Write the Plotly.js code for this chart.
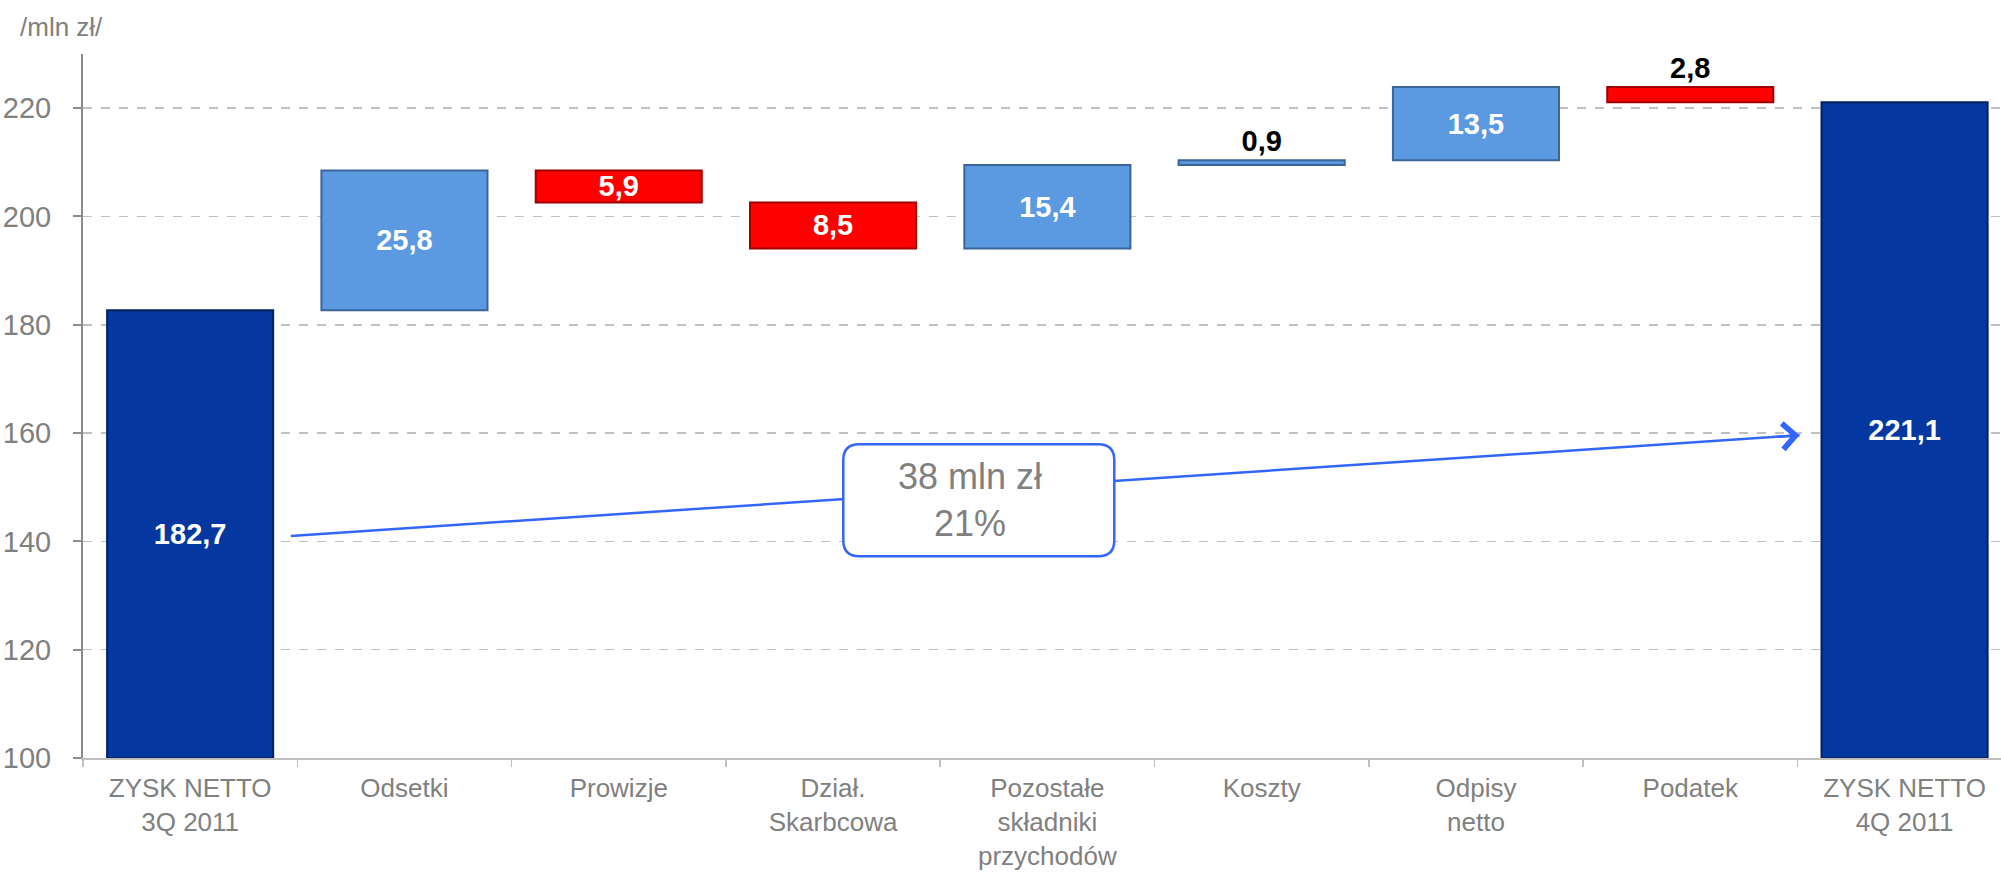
<!DOCTYPE html>
<html>
<head>
<meta charset="utf-8">
<script src="https://cdn.plot.ly/plotly-3.0.1.min.js"></script>
<style>
  html, body { margin: 0; padding: 0; background: #ffffff; overflow: hidden; }
  #chart { width: 2001px; height: 873px; }
</style>
</head>
<body>
<div id="chart"></div>
<script>
// ---- data ----
const categories = [
  'ZYSK NETTO<br>3Q 2011', 'Odsetki', 'Prowizje', 'Dział.<br>Skarbcowa',
  'Pozostałe<br>składniki<br>przychodów', 'Koszty', 'Odpisy<br>netto', 'Podatek',
  'ZYSK NETTO<br>4Q 2011'
];
const startValue = 182.7;
const changes = [25.8, -5.9, -8.5, 15.4, 0.9, 13.5, -2.8];
const endValue = 221.1;
const valueLabels = ['182,7', '25,8', '5,9', '8,5', '15,4', '0,9', '13,5', '2,8', '221,1'];
const unitLabel = '/mln zł/';
const growthLabel = ['38 mln zł', '21%'];
const yTicks = [100, 120, 140, 160, 180, 200, 220];

// ---- styles ----
const Y_MIN = 100, Y_MAX = 230;
const FONT = 'Liberation Sans, Arial, Helvetica, sans-serif';
const GRAY = '#808080';
const C_TOTAL = '#0537A1', C_TOTAL_LINE = '#02205E';
const C_UP = '#5B9AE0', C_UP_LINE = '#3A6596';
const C_DOWN = '#FF0000', C_DOWN_LINE = '#A00000';
const ARROW = '#3366FF';

// build waterfall geometry from the data
const bases = [], heights = [], fills = [], lines = [], tpos = [];
bases.push(Y_MIN); heights.push(startValue - Y_MIN); fills.push(C_TOTAL); lines.push(C_TOTAL_LINE);
let running = startValue;
changes.forEach(d => {
  const next = running + d;
  bases.push(Math.min(running, next));
  heights.push(Math.abs(d));
  fills.push(d >= 0 ? C_UP : C_DOWN);
  lines.push(d >= 0 ? C_UP_LINE : C_DOWN_LINE);
  running = next;
});
bases.push(Y_MIN); heights.push(endValue - Y_MIN); fills.push(C_TOTAL); lines.push(C_TOTAL_LINE);
heights.forEach(h => tpos.push(h >= 5 ? 'inside' : 'outside'));

const trace = {
  type: 'bar',
  x: categories,
  y: heights,
  base: bases,
  width: 0.775,
  marker: { color: fills, line: { color: lines, width: 2 } },
  text: valueLabels,
  textposition: tpos,
  insidetextanchor: 'middle',
  constraintext: 'none',
  insidetextfont: { family: FONT, size: 29, color: '#ffffff', weight: 'bold' },
  outsidetextfont: { family: FONT, size: 29, color: '#000000', weight: 'bold' },
  cliponaxis: false,
  hoverinfo: 'skip'
};

// arrow geometry (in category index / value units)
const arrowTail = { x: 0.47, y: 141 };
const arrowHead = { x: 7.51, y: 159.6 };
const boxCenter = { x: 3.68, y: 147.6 };
const bw = 135.5, bh = 56, r = 16;
const boxPath =
  `M ${-bw + r},${-bh} L ${bw - r},${-bh} Q ${bw},${-bh} ${bw},${-bh + r} ` +
  `L ${bw},${bh - r} Q ${bw},${bh} ${bw - r},${bh} ` +
  `L ${-bw + r},${bh} Q ${-bw},${bh} ${-bw},${bh - r} ` +
  `L ${-bw},${-bh + r} Q ${-bw},${-bh} ${-bw + r},${-bh} Z`;

const layout = {
  width: 2001, height: 873,
  margin: { l: 83, r: 0, t: 54, b: 115 },
  paper_bgcolor: '#ffffff', plot_bgcolor: '#ffffff',
  showlegend: false,
  font: { family: FONT, color: GRAY },
  bargap: 0.225,
  xaxis: {
    type: 'category',
    range: [-0.5, 8.45],
    showline: true, linecolor: '#BFBFBF', linewidth: 2,
    ticks: 'outside', tickson: 'boundaries', ticklen: 7, tickcolor: '#BFBFBF', tickwidth: 1.5,
    tickfont: { family: FONT, size: 26, color: GRAY },
    ticklabelstandoff: 6,
    showgrid: false, zeroline: false, fixedrange: true
  },
  yaxis: {
    range: [Y_MIN, Y_MAX],
    tickvals: yTicks,
    showline: true, linecolor: '#8C8C8C', linewidth: 2,
    ticks: 'outside', ticklen: 8, tickcolor: '#8C8C8C', tickwidth: 2,
    tickfont: { family: FONT, size: 29, color: GRAY },
    ticklabelstandoff: 16,
    showgrid: true, gridcolor: '#C0C0C0', gridwidth: 1.5, griddash: 'dash',
    zeroline: false, fixedrange: true
  },
  shapes: [
    {
      type: 'line', xref: 'x', yref: 'y',
      x0: arrowTail.x, y0: arrowTail.y, x1: arrowHead.x, y1: arrowHead.y,
      line: { color: ARROW, width: 2.5 }, layer: 'above'
    },
    {
      type: 'path', xref: 'x', yref: 'y',
      xsizemode: 'pixel', ysizemode: 'pixel',
      xanchor: boxCenter.x, yanchor: boxCenter.y,
      path: boxPath,
      fillcolor: '#ffffff', line: { color: ARROW, width: 2.5 }, layer: 'above'
    }
  ],
  annotations: [
    {
      xref: 'x', yref: 'y', x: arrowHead.x, y: arrowHead.y,
      ax: -24, ay: 1.6, text: '', showarrow: true,
      arrowhead: 4, arrowsize: 2, arrowwidth: 2.5, arrowcolor: ARROW, standoff: 0
    },
    {
      xref: 'x', yref: 'y', x: boxCenter.x - 0.04, y: boxCenter.y,
      text: growthLabel.join('<br>'), showarrow: false,
      font: { family: FONT, size: 36, color: GRAY }, align: 'center'
    },
    {
      xref: 'paper', yref: 'paper', x: -65 / 1918, y: 1 + 44 / 704,
      xanchor: 'left', yanchor: 'top', text: unitLabel, showarrow: false,
      font: { family: FONT, size: 26, color: GRAY }
    }
  ]
};

Plotly.newPlot('chart', [trace], layout, { displayModeBar: false, staticPlot: true });
</script>
</body>
</html>
